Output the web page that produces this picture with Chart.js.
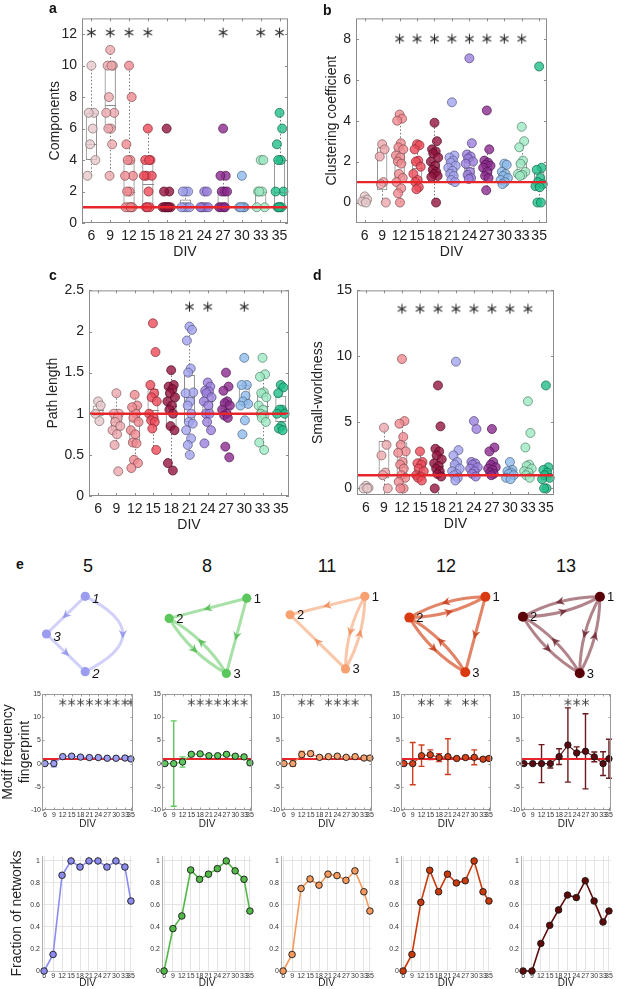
<!DOCTYPE html>
<html>
<head>
<meta charset="utf-8">
<title>Network measures over DIV</title>
<script src="https://cdn.jsdelivr.net/npm/chart.js@4.4.1/dist/chart.umd.min.js"></script>
<style>
  html, body { margin: 0; padding: 0; background: #fff; }
  #fig { position: relative; width: 617px; height: 989px; overflow: hidden; font-family: 'Liberation Sans', Arial, sans-serif; color: #111; }
  #fig canvas { position: absolute; }
  .tag { position: absolute; font-weight: bold; font-size: 14px; line-height: 14px; }
  .mtitle { position: absolute; width: 60px; text-align: center; font-size: 18px; line-height: 18px; }
</style>
</head>
<body>
<div id="fig"></div>
<script>
// ---------- shared DIV categories ----------
const divLabels = ['6', '9', '12', '15', '18', '21', '24', '27', '30', '33', '35'];
const divDays = [6, 9, 12, 15, 18, 21, 24, 27, 30, 33, 35];
const divColors = ['#e7c9cc', '#eca7ac', '#ef8a90', '#ee4b5a', '#941540', '#a2a2ef', '#9b80dd', '#8b2b8d', '#8dbaeb', '#9de9c3', '#23be8b'];

// ---------- a: components ----------
const componentsValues = [
  [10, 7, 7, 6, 5, 4, 3],
  [11, 10, 10, 10, 8, 7, 7, 6, 6, 5, 3],
  [10, 8, 5, 4, 4, 3, 3, 2, 2, 1, 1, 1, 1, 1],
  [6, 4, 4, 4, 3, 3, 3, 2, 1, 1, 1],
  [6, 2, 2, 1, 1, 1, 1, 1, 1, 1],
  [2, 2, 2, 1, 1, 1, 1],
  [2, 2, 1, 1, 1, 1, 1],
  [6, 3, 3, 2, 2, 2, 1, 1, 1, 1],
  [3, 1, 1, 1, 1],
  [4, 4, 2, 2, 2, 1, 1],
  [7, 6, 5, 4, 4, 2, 2, 1, 1, 1, 1]
];
// box stats: [q1, median, q3, whisker low, whisker high]
const componentsBoxes = [
  [4, 5, 7, 3, 10], [6, 7.5, 10, 3, 11], [1, 2, 4, 1, 10], [1, 2.5, 4, 1, 6], [1, 1, 1, 1, 1],
  [1, 1, 1.5, 1, 2], [1, 1, 1, 1, 1], [1, 1, 2, 1, 3], [1, 1, 1, 1, 1], [1, 2, 2, 1, 2], [1, 2, 4, 1, 7]
];
const componentsStars = ['6', '9', '12', '15', '27', '33', '35'];
const componentsTicks = [0, 2, 4, 6, 8, 10, 12];

// ---------- b: clustering coefficient ----------
const clusteringValues = [
  [0.3, 0.15, 0.05, 0],
  [2.85, 2.6, 2.25, 1.0, 0.9, 0],
  [4.3, 4.1, 4.0, 2.9, 2.7, 2.6, 2.3, 2.2, 2.0, 1.9, 1.4, 1.2, 1.0, 0.7, 0.45, 0],
  [2.85, 2.8, 2.6, 2.05, 2.0, 1.75, 1.4, 1.1, 1.0, 0.75, 0.65],
  [3.9, 3.0, 2.6, 2.5, 2.4, 2.2, 2.0, 1.8, 1.6, 1.5, 1.4, 1.3, 1.25, 0],
  [4.9, 2.3, 2.2, 2.05, 1.95, 1.8, 1.7, 1.55, 1.4, 1.3, 1.1, 1.0],
  [7.05, 2.9, 2.35, 2.25, 2.15, 2.0, 1.9, 1.5, 1.35, 1.2, 1.15],
  [4.5, 2.6, 2.05, 1.95, 1.85, 1.8, 1.7, 1.5, 1.3, 1.2, 0.6],
  [1.9, 1.85, 1.5, 1.4, 1.3, 1.2, 1.1, 1.0, 0.9],
  [3.7, 3.0, 2.7, 2.05, 1.9, 1.5, 1.4, 1.35, 1.3],
  [6.65, 1.7, 1.6, 1.2, 1.0, 0.9, 0.8, 0.75, 0, 0]
];
const clusteringBoxes = [
  [0, 0.05, 0.15, 0, 0.3], [0.6, 1.0, 2.7, 0, 2.85], [1.0, 2.0, 2.65, 0, 4.3], [1.0, 1.7, 2.0, 0.65, 2.85],
  [1.45, 2.0, 2.4, 0, 3.9], [1.3, 1.7, 2.05, 1.0, 2.3], [1.2, 1.7, 2.15, 1.15, 2.9], [1.3, 1.6, 1.8, 0.6, 2.6],
  [1.15, 1.3, 1.4, 0.9, 1.9], [1.3, 1.5, 2.0, 1.3, 3.0], [0.75, 1.0, 1.5, 0, 1.7]
];
const clusteringStars = ['12', '15', '18', '21', '24', '27', '30', '33'];
const clusteringTicks = [0, 2, 4, 6, 8];

// ---------- c: path length ----------
const pathValues = [
  [1.15, 1.1, 1.0, 0.91],
  [1.25, 1.0, 1.0, 0.95, 0.9, 0.85, 0.8, 0.75, 0.62, 0.3],
  [1.23, 1.1, 1.08, 1.0, 0.95, 0.9, 0.8, 0.75, 0.65, 0.64, 0.44, 0.4, 0.34],
  [2.1, 1.75, 1.35, 1.25, 1.2, 1.15, 1.0, 0.95, 0.92, 0.9, 0.82, 0.56],
  [1.53, 1.35, 1.33, 1.3, 1.25, 1.2, 1.15, 1.1, 1.05, 1.0, 0.85, 0.8, 0.4, 0.31],
  [2.06, 2.02, 1.89, 1.55, 1.5, 1.26, 1.25, 1.15, 1.1, 1.0, 0.9, 0.88, 0.8, 0.7, 0.62, 0.5],
  [1.38, 1.33, 1.28, 1.27, 1.25, 1.2, 1.15, 1.1, 1.0, 1.0, 0.9, 0.8, 0.64],
  [1.5, 1.33, 1.28, 1.15, 1.13, 1.1, 1.05, 1.0, 0.98, 0.95, 0.6, 0.47],
  [1.68, 1.35, 1.35, 1.22, 1.15, 1.12, 1.1, 0.92, 0.75],
  [1.68, 1.48, 1.45, 1.26, 1.25, 1.2, 1.1, 1.05, 1.0, 0.98, 0.95, 0.9, 0.65, 0.56],
  [1.35, 1.32, 1.25, 1.05, 1.05, 1.0, 1.0, 0.85, 0.82, 0.8]
];
const pathBoxes = [
  [0.97, 1.05, 1.1, 0.91, 1.15], [0.8, 0.9, 1.0, 0.62, 1.25], [0.65, 0.92, 1.1, 0.34, 1.23], [0.92, 1.05, 1.3, 0.56, 1.35],
  [0.83, 1.1, 1.32, 0.31, 1.53], [0.9, 1.2, 1.47, 0.5, 2.06], [1.0, 1.15, 1.27, 0.8, 1.38], [0.97, 1.07, 1.15, 0.9, 1.33],
  [1.1, 1.15, 1.35, 1.1, 1.35], [0.97, 1.1, 1.23, 0.56, 1.48], [0.9, 1.0, 1.22, 0.8, 1.35]
];
const pathStars = ['21', '24', '30'];
const pathTicks = [0, 0.5, 1, 1.5, 2, 2.5];

// ---------- d: small-worldness ----------
const smallWorldValues = [
  [0.2, 0.05, 0, 0],
  [4.6, 3.3, 2.5, 1.2, 1.0, 0],
  [9.8, 5.1, 4.9, 3.9, 3.3, 2.8, 2.7, 2.0, 1.8, 1.5, 1.0, 0.8, 0.5, 0, 0],
  [2.8, 2.0, 1.9, 1.8, 1.5, 1.3, 1.0, 0.9, 0.8, 0.6],
  [7.8, 4.7, 3.0, 2.8, 2.5, 2.2, 1.9, 1.7, 1.5, 1.3, 1.1, 0.9, 0],
  [9.6, 2.9, 2.5, 2.0, 1.8, 1.5, 1.3, 1.1, 1.0, 0.8, 0.6],
  [5.1, 4.5, 2.0, 1.9, 1.8, 1.6, 1.5, 1.3, 1.1, 0.9],
  [4.5, 3.1, 2.8, 2.0, 1.8, 1.6, 1.5, 1.4, 1.2, 1.1, 1.0],
  [2.0, 1.4, 1.3, 1.2, 1.1, 1.0, 0.8, 0.7],
  [6.6, 4.2, 3.1, 1.8, 1.7, 1.5, 1.3, 1.2, 1.0, 0.8],
  [7.8, 1.6, 1.4, 1.2, 1.0, 0.8, 0.7, 0, 0]
];
const smallWorldBoxes = [
  [0, 0.02, 0.1, 0, 0.2], [0.75, 1.2, 3.6, 0, 4.6], [0.75, 1.6, 3.5, 0, 5.1], [0.9, 1.2, 1.8, 0.6, 2.8],
  [1.2, 1.7, 2.5, 0.9, 3.0], [0.9, 1.2, 1.9, 0.6, 2.9], [1.2, 1.5, 1.8, 0.9, 2.0], [1.2, 1.4, 1.7, 1.0, 2.0],
  [0.9, 1.1, 1.3, 0.7, 1.4], [1.0, 1.3, 1.6, 0.8, 1.8], [0.6, 0.9, 1.2, 0, 1.6]
];
const smallWorldStars = ['12', '15', '18', '21', '24', '27', '30', '33'];
const smallWorldTicks = [0, 5, 10, 15];

// ---------- e: motifs ----------
const motifNames = ['5', '8', '11', '12', '13'];
const motifMean = [
  [0, 0, 1.5, 1.6, 1.4, 1.3, 1.3, 1.15, 1.15, 1.2, 1.0],
  [0, 0, 0.35, 2.0, 2.1, 1.7, 1.7, 2.0, 1.6, 1.45, 0.15],
  [0, 0, 1.95, 2.15, 1.35, 1.5, 1.6, 1.35, 1.5, 1.2, 1.2],
  [0, 0, 1.7, 1.9, 1.3, 1.5, 1.1, 1.3, 1.35, 0.95, 1.1],
  [0, 0, 0, 0, 1.5, 4.0, 2.3, 2.65, 1.45, 0, 1.05]
];
const motifErr = [
  [0, 0.7, 0.3, 0.3, 0.25, 0.25, 0.25, 0.25, 0.25, 0.25, 0.25],
  [0, 9.2, 1.1, 0.35, 0.3, 0.3, 0.3, 0.35, 0.3, 0.3, 0.2],
  [0, 0.6, 0.7, 0.5, 0.25, 0.25, 0.25, 0.25, 0.25, 0.25, 0.2],
  [0, 4.55, 2.3, 1.05, 0.85, 3.85, 0.2, 0.4, 1.6, 0.25, 0.25],
  [0, 0, 4.1, 0.95, 1.7, 8.0, 1.3, 8.1, 1.05, 2.55, 4.2]
];
const motifStars = [
  ['12', '15', '18', '21', '24', '27', '30', '33', '35'],
  ['15', '18', '21', '24', '27', '30', '33'],
  ['12', '15', '21', '24', '27', '30'],
  ['12', '15', '21', '27', '30'],
  ['21', '24', '27']
];
const fractionNetworks = [
  [0, 0.15, 0.87, 1, 0.945, 1, 1, 0.945, 1, 0.945, 0.636],
  [0, 0.385, 0.5, 0.918, 0.833, 0.88, 0.93, 1, 0.91, 0.833, 0.545],
  [0, 0.15, 0.75, 0.836, 0.78, 0.88, 0.867, 0.824, 0.91, 0.72, 0.545],
  [0, 0.15, 0.624, 0.915, 0.72, 0.88, 0.8, 0.82, 1, 0.72, 0.636],
  [0, 0, 0.25, 0.415, 0.555, 0.69, 0.667, 0.82, 0.636, 0.445, 0.545]
];
const motifTicks = [-10, -5, 0, 5, 10, 15];
const fractionTicks = [0, 0.2, 0.4, 0.6, 0.8, 1];

// motif graphs: node layout (x, y inside each drawing) and directed edges [from, to]
const motifNodes = [
  [[57, 15], [57, 97], [15, 56]],
  [[103, 17], [19, 39], [81, 99]],
  [[101, 15], [20, 35], [80, 94]],
  [[103, 15], [20, 38], [81, 98]],
  [[97, 15], [13, 37], [75, 99]]
];
const motifEdges = [
  [[1, 3], [3, 2], [1, 2]],
  [[1, 2], [1, 3], [2, 3], [3, 2]],
  [[1, 2], [1, 3], [3, 1], [3, 2]],
  [[1, 2], [2, 1], [1, 3], [2, 3], [3, 2]],
  [[1, 2], [2, 1], [1, 3], [3, 1], [2, 3], [3, 2]]
];

// ---------- styling ----------
const motifNodeColor = ['#9b9bf0', '#5cc75c', '#f7a070', '#d93a12', '#5a0008'];
const motifEdgeColor = ['rgba(150,150,240,0.45)', 'rgba(95,200,95,0.55)', 'rgba(247,160,112,0.6)', 'rgba(215,85,45,0.72)', 'rgba(135,65,75,0.65)'];
const motifArrowColor = ['rgba(135,135,235,0.75)', 'rgba(80,185,80,0.8)', 'rgba(240,140,90,0.85)', 'rgba(200,70,35,0.9)', 'rgba(110,40,50,0.85)'];
const motifFill = ['#9d9df2', '#5ec85e', '#f5a26e', '#d8401a', '#5c0a10'];
const motifErrColor = ['#8f8fe8', '#5ec85e', '#f08a5a', '#d04020', '#6a1a1e'];
const fractionColor = ['#8c8cf0', '#52b848', '#f59a5c', '#c83a0c', '#5e0a0a'];
const COL_LEFT = [42, 162, 281, 401, 521];
const COL_RIGHT = [133, 252, 372, 491, 611];
const JITTER = [0, 0.14, -0.14, 0.07, -0.07, 0.21, -0.21, 0.035, -0.1, 0.1, -0.035, 0.18, -0.18, 0.09, -0.09, 0.02];
const RED = '#e6262a';

Chart.defaults.font.family = "'Liberation Sans', Arial, sans-serif";
Chart.defaults.color = '#222';
Chart.defaults.animation = false;
Chart.defaults.events = [];
Chart.defaults.plugins.legend.display = false;
Chart.defaults.plugins.tooltip.enabled = false;

const fig = document.getElementById('fig');

function addCanvas(left, top, w, h) {
  const c = document.createElement('canvas');
  c.width = w; c.height = h;
  c.style.left = left + 'px'; c.style.top = top + 'px';
  c.style.width = w + 'px'; c.style.height = h + 'px';
  fig.appendChild(c);
  return c;
}

function addText(cls, text, left, top) {
  const d = document.createElement('div');
  d.className = cls; d.textContent = text;
  d.style.left = left + 'px'; d.style.top = top + 'px';
  fig.appendChild(d);
}

function hexRgb(h) {
  const n = parseInt(h.slice(1), 16);
  return [(n >> 16) & 255, (n >> 8) & 255, n & 255];
}
function rgba(h, a) {
  const [r, g, b] = hexRgb(h);
  return `rgba(${r},${g},${b},${a})`;
}
function shade(h, f) {
  const [r, g, b] = hexRgb(h);
  return `rgba(${Math.round(r * f)},${Math.round(g * f)},${Math.round(b * f)},0.9)`;
}

// asterisk used as a point style for the significance marks
function asterisk(size, color, lw) {
  const c = document.createElement('canvas');
  c.width = c.height = size;
  const g = c.getContext('2d');
  g.strokeStyle = color; g.lineWidth = lw; g.lineCap = 'round';
  const r = size / 2 - lw;
  for (let k = 0; k < 3; k++) {
    const a = Math.PI / 2 + k * Math.PI / 3;
    g.beginPath();
    g.moveTo(size / 2 + r * Math.cos(a), size / 2 + r * Math.sin(a));
    g.lineTo(size / 2 - r * Math.cos(a), size / 2 - r * Math.sin(a));
    g.stroke();
  }
  return c;
}
const bigStar = asterisk(11, '#2a2a2a', 1.1);
const smallStar = asterisk(9, '#444', 1.0);

// ---------- plugins ----------
function refLine(value, color, width, before) {
  const draw = chart => {
    const {ctx, chartArea: a} = chart;
    const y = chart.scales.y.getPixelForValue(value);
    ctx.save();
    ctx.strokeStyle = color; ctx.lineWidth = width;
    ctx.beginPath(); ctx.moveTo(a.left, y); ctx.lineTo(a.right, y); ctx.stroke();
    ctx.restore();
  };
  return before ? { id: 'refLine', beforeDatasetsDraw: draw } : { id: 'refLine', afterDatasetsDraw: draw };
}

function frame(color, tick) {
  return {
    id: 'frame',
    afterDatasetsDraw(chart) {
      const {ctx, chartArea: a} = chart;
      const sx = chart.scales.x, sy = chart.scales.y;
      ctx.save();
      ctx.strokeStyle = color; ctx.lineWidth = 1;
      ctx.strokeRect(a.left + 0.5, a.top + 0.5, a.width - 1, a.height - 1);
      ctx.beginPath();
      sx.ticks.forEach(t => {
        const p = Math.round(sx.getPixelForValue(t.value)) + 0.5;
        ctx.moveTo(p, a.bottom); ctx.lineTo(p, a.bottom - tick);
        ctx.moveTo(p, a.top); ctx.lineTo(p, a.top + tick);
      });
      sy.ticks.forEach(t => {
        const p = Math.round(sy.getPixelForValue(t.value)) + 0.5;
        ctx.moveTo(a.left, p); ctx.lineTo(a.left + tick, p);
        ctx.moveTo(a.right, p); ctx.lineTo(a.right - tick, p);
      });
      ctx.stroke();
      ctx.restore();
    }
  };
}

// whiskers and medians for the box datasets
function boxExtras(stats) {
  return {
    id: 'boxExtras',
    beforeDatasetsDraw(chart) {
      const {ctx} = chart;
      const sx = chart.scales.x, sy = chart.scales.y;
      const meta = chart.getDatasetMeta(0);
      ctx.save();
      stats.forEach((s, i) => {
        const cx = Math.round(sx.getPixelForValue(i)) + 0.5;
        const half = meta.data[i].width / 2;
        ctx.strokeStyle = '#777'; ctx.lineWidth = 1; ctx.setLineDash([1.5, 2]);
        ctx.beginPath();
        if (s[3] < s[0]) { ctx.moveTo(cx, sy.getPixelForValue(s[3])); ctx.lineTo(cx, sy.getPixelForValue(s[0])); }
        if (s[4] > s[2]) { ctx.moveTo(cx, sy.getPixelForValue(s[2])); ctx.lineTo(cx, sy.getPixelForValue(s[4])); }
        ctx.stroke();
        ctx.setLineDash([]);
        if (s[2] > s[0]) {
          const my = Math.round(sy.getPixelForValue(s[1])) + 0.5;
          ctx.strokeStyle = '#8c8c8c';
          ctx.beginPath(); ctx.moveTo(cx - half, my); ctx.lineTo(cx + half, my); ctx.stroke();
        }
      });
      ctx.restore();
    }
  };
}

function errorBars(mean, err, color) {
  return {
    id: 'errorBars',
    beforeDatasetsDraw(chart) {
      const {ctx} = chart;
      const sx = chart.scales.x, sy = chart.scales.y;
      ctx.save();
      ctx.strokeStyle = color; ctx.lineWidth = 1.4;
      divDays.forEach((d, k) => {
        if (!err[k]) return;
        const px = sx.getPixelForValue(d);
        const top = sy.getPixelForValue(mean[k] + err[k]);
        const bot = sy.getPixelForValue(mean[k] - err[k]);
        ctx.beginPath();
        ctx.moveTo(px, top); ctx.lineTo(px, bot);
        ctx.moveTo(px - 3, top); ctx.lineTo(px + 3, top);
        ctx.moveTo(px - 3, bot); ctx.lineTo(px + 3, bot);
        ctx.stroke();
      });
      ctx.restore();
    }
  };
}

function networkDraw(i) {
  const nodes = motifNodes[i], edges = motifEdges[i];
  const bends = edges.map(e => {
    if (edges.some(f => f[0] === e[1] && f[1] === e[0])) return -0.13;
    return (i === 0 && e[0] === 1 && e[1] === 2) ? 1.0 : 0;
  });
  return {
    id: 'networkDraw',
    beforeDatasetsDraw(chart) {
      const {ctx} = chart;
      const sx = chart.scales.x, sy = chart.scales.y;
      const P = nodes.map(n => [sx.getPixelForValue(n[0]), sy.getPixelForValue(n[1])]);
      ctx.save();
      ctx.lineCap = 'round';
      edges.forEach((e, k) => {
        const a = P[e[0] - 1], b = P[e[1] - 1];
        const dx = b[0] - a[0], dy = b[1] - a[1];
        const cx = (a[0] + b[0]) / 2 + dy * bends[k], cy = (a[1] + b[1]) / 2 - dx * bends[k];
        ctx.strokeStyle = motifEdgeColor[i]; ctx.lineWidth = 3;
        ctx.beginPath(); ctx.moveTo(a[0], a[1]); ctx.quadraticCurveTo(cx, cy, b[0], b[1]); ctx.stroke();
        const mx = 0.25 * a[0] + 0.5 * cx + 0.25 * b[0];
        const my = 0.25 * a[1] + 0.5 * cy + 0.25 * b[1];
        ctx.save();
        ctx.translate(mx, my); ctx.rotate(Math.atan2(dy, dx));
        ctx.fillStyle = motifArrowColor[i];
        ctx.beginPath(); ctx.moveTo(4.5, 0); ctx.lineTo(-4, -4.2); ctx.lineTo(-1.5, 0); ctx.lineTo(-4, 4.2); ctx.closePath(); ctx.fill();
        ctx.restore();
      });
      ctx.restore();
    },
    afterDatasetsDraw(chart) {
      const {ctx} = chart;
      const sx = chart.scales.x, sy = chart.scales.y;
      ctx.save();
      ctx.fillStyle = '#111';
      ctx.font = (i === 0 ? 'italic ' : '') + "13px 'Liberation Sans', Arial, sans-serif";
      ctx.textBaseline = 'middle';
      nodes.forEach((n, k) => {
        ctx.fillText(String(k + 1), sx.getPixelForValue(n[0]) + 7, sy.getPixelForValue(n[1]) + (i === 0 ? 3 : 1));
      });
      ctx.restore();
    }
  };
}

// ---------- box + scatter panels (a-d) ----------
function boxPanel(p) {
  const canvas = addCanvas(p.left, p.top, p.width, p.height);
  const pts = [], fills = [], borders = [];
  p.values.forEach((list, i) => list.forEach((v, k) => {
    pts.push({ x: i + JITTER[k % JITTER.length], y: v });
    fills.push(rgba(divColors[i], 0.8));
    borders.push(shade(divColors[i], 0.55));
  }));
  new Chart(canvas, {
    type: 'bar',
    data: {
      datasets: [
        {
          type: 'bar',
          data: p.boxes.map((b, i) => ({ x: i, y: [b[0], b[2]] })),
          backgroundColor: 'rgba(0,0,0,0)', borderColor: '#8c8c8c', borderWidth: 1, borderSkipped: false,
          barPercentage: 0.6, categoryPercentage: 1, order: 3
        },
        {
          type: 'scatter',
          data: p.stars.map(s => ({ x: divLabels.indexOf(s), y: p.starY })),
          pointStyle: bigStar, pointRadius: 5, order: 2
        },
        {
          type: 'scatter', data: pts, pointRadius: 4.5,
          pointBackgroundColor: fills, pointBorderColor: borders, pointBorderWidth: 0.8, order: 1, clip: false
        }
      ]
    },
    options: {
      responsive: false,
      layout: { padding: { top: 10, right: 6, bottom: 0, left: 0 } },
      scales: {
        x: {
          type: 'linear', offset: false, min: -0.5, max: 10.45,
          afterBuildTicks: s => { s.ticks = divLabels.map((_, i) => ({ value: i })); },
          grid: { display: false, drawTicks: false }, border: { display: false },
          ticks: { autoSkip: false, maxRotation: 0, padding: 5, font: { size: 14 }, color: '#222', callback: v => divLabels[Math.round(v)] },
          title: { display: true, text: 'DIV', font: { size: 14 }, color: '#222', padding: { top: 0, bottom: 4 } },
          afterFit: s => { s.height = 42; }
        },
        y: {
          min: p.yMin, max: p.yMax,
          afterBuildTicks: s => { s.ticks = p.yTicks.map(v => ({ value: v })); },
          grid: { display: false, drawTicks: false }, border: { display: false },
          ticks: { padding: 5, font: { size: 14 }, color: '#222', callback: v => String(v) },
          title: { display: true, text: p.yTitle, font: { size: 14 }, color: '#222', padding: { top: 4, bottom: 0 } },
          afterFit: s => { s.width = p.yWidth; }
        }
      }
    },
    plugins: [boxExtras(p.boxes), refLine(1, RED, 2.4, false), frame('#8c8c8c', 3)]
  });
}

boxPanel({ left: 43, top: 5, width: 251, height: 260, yWidth: 39, yMin: 0, yMax: 13, yTicks: componentsTicks,
  yTitle: 'Components', values: componentsValues, boxes: componentsBoxes, stars: componentsStars, starY: 12.1 });
boxPanel({ left: 320, top: 5, width: 233, height: 260, yWidth: 36, yMin: -1, yMax: 9, yTicks: clusteringTicks,
  yTitle: 'Clustering coefficient', values: clusteringValues, boxes: clusteringBoxes, stars: clusteringStars, starY: 8 });
boxPanel({ left: 41, top: 277, width: 254, height: 261, yWidth: 48, yMin: 0, yMax: 2.5, yTicks: pathTicks,
  yTitle: 'Path length', values: pathValues, boxes: pathBoxes, stars: pathStars, starY: 2.3 });
boxPanel({ left: 306, top: 277, width: 254, height: 260, yWidth: 51, yMin: -0.5, yMax: 15, yTicks: smallWorldTicks,
  yTitle: 'Small-worldness', values: smallWorldValues, boxes: smallWorldBoxes, stars: smallWorldStars, starY: 13.6 });

addText('tag', 'a', 49, 1);
addText('tag', 'b', 323, 3);
addText('tag', 'c', 49, 268);
addText('tag', 'd', 313, 268);
addText('tag', 'e', 16, 557);

// ---------- e: motif drawings, fingerprints and fractions ----------
motifNames.forEach((name, i) => {
  const center = (COL_LEFT[i] + COL_RIGHT[i]) / 2;
  addText('mtitle', name, Math.round(center - 30), 557);

  // motif graph
  const gCanvas = addCanvas(Math.round(center - 60), 578, 120, 112);
  new Chart(gCanvas, {
    type: 'scatter',
    data: { datasets: [{ data: motifNodes[i].map(n => ({ x: n[0], y: n[1] })), pointRadius: i >= 3 ? 5 : 4.6, pointBackgroundColor: motifNodeColor[i], pointBorderWidth: 0, clip: false }] },
    options: {
      responsive: false,
      layout: { padding: 0 },
      scales: {
        x: { type: 'linear', display: false, min: 0, max: 120 },
        y: { type: 'linear', display: false, min: 0, max: 112, reverse: true }
      }
    },
    plugins: [networkDraw(i)]
  });

  // motif frequency fingerprint
  const L = COL_LEFT[i], R = COL_RIGHT[i];
  const mLeft = i === 0 ? 0 : L - 18;
  const mCanvas = addCanvas(mLeft, 687, R - mLeft + 5, 145);
  new Chart(mCanvas, {
    type: 'line',
    data: {
      datasets: [
        {
          data: divDays.map((d, k) => ({ x: d, y: motifMean[i][k] })),
          borderColor: motifErrColor[i], borderWidth: 1.2, pointRadius: 3.2,
          pointBackgroundColor: motifFill[i], pointBorderColor: '#151515', pointBorderWidth: 0.9, order: 1, clip: false
        },
        {
          type: 'scatter',
          data: motifStars[i].map(s => ({ x: divDays[divLabels.indexOf(s)], y: 13.2 })),
          pointStyle: smallStar, pointRadius: 4, order: 2
        }
      ]
    },
    options: {
      responsive: false,
      layout: { padding: { top: 7, right: 5, bottom: 0, left: 0 } },
      scales: {
        x: {
          type: 'linear', min: 5.0, max: 35.7,
          afterBuildTicks: s => { s.ticks = divDays.map(v => ({ value: v })); },
          grid: { display: false, drawTicks: false }, border: { display: false },
          ticks: { autoSkip: false, maxRotation: 0, padding: 1, font: { size: 7 }, color: '#333', callback: v => String(v) },
          title: { display: true, text: 'DIV', font: { size: 10 }, color: '#222', padding: { top: 0, bottom: 2 } },
          afterFit: s => { s.height = 22; }
        },
        y: {
          min: -10, max: 15,
          afterBuildTicks: s => { s.ticks = motifTicks.map(v => ({ value: v })); },
          grid: { display: false, drawTicks: false }, border: { display: false },
          ticks: { padding: 1, font: { size: 7 }, color: '#333', callback: v => String(v) },
          title: i === 0
            ? { display: true, text: ['Motif frequency', 'fingerprint'], font: { size: 14 }, color: '#222', padding: { top: 0, bottom: 0 } }
            : { display: false },
          afterFit: s => { s.width = L - mLeft; }
        }
      }
    },
    plugins: [errorBars(motifMean[i], motifErr[i], motifErrColor[i]), refLine(1, RED, 2, true), frame('#9a9a9a', 2.5)]
  });

  // fraction of networks containing the motif
  const fLeft = i === 0 ? 0 : L - 18;
  const fCanvas = addCanvas(fLeft, 846, R - fLeft + 5, 143);
  new Chart(fCanvas, {
    type: 'line',
    data: {
      datasets: [{
        data: divDays.map((d, k) => ({ x: d, y: fractionNetworks[i][k] })),
        borderColor: fractionColor[i], borderWidth: 1.6, pointRadius: 3.3,
        pointBackgroundColor: fractionColor[i], pointBorderColor: '#1a1a1a', pointBorderWidth: 0.9, clip: false
      }]
    },
    options: {
      responsive: false,
      layout: { padding: { top: 10, right: 5, bottom: 0, left: 0 } },
      scales: {
        x: {
          type: 'linear', min: 5.3, max: 35.7,
          afterBuildTicks: s => { s.ticks = divDays.map(v => ({ value: v })); },
          grid: { color: '#e4e4e4', drawTicks: false }, border: { color: '#c4c4c4' },
          ticks: { autoSkip: false, maxRotation: 0, padding: 1, font: { size: 7 }, color: '#333', callback: v => String(v) },
          title: { display: true, text: 'DIV', font: { size: 10 }, color: '#222', padding: { top: 0, bottom: 0 } },
          afterFit: s => { s.height = 18; }
        },
        y: {
          min: 0, max: 1.045,
          afterBuildTicks: s => { s.ticks = fractionTicks.map(v => ({ value: v })); },
          grid: { color: '#e4e4e4', drawTicks: false }, border: { color: '#b0b0b0' },
          ticks: { padding: 2, font: { size: 7 }, color: '#333', callback: v => String(v) },
          title: i === 0
            ? { display: true, text: 'Fraction of networks', font: { size: 14 }, color: '#222', padding: { top: 8.6, bottom: 0 } }
            : { display: false },
          afterFit: s => { s.width = L - fLeft; }
        }
      }
    }
  });
});
</script>
